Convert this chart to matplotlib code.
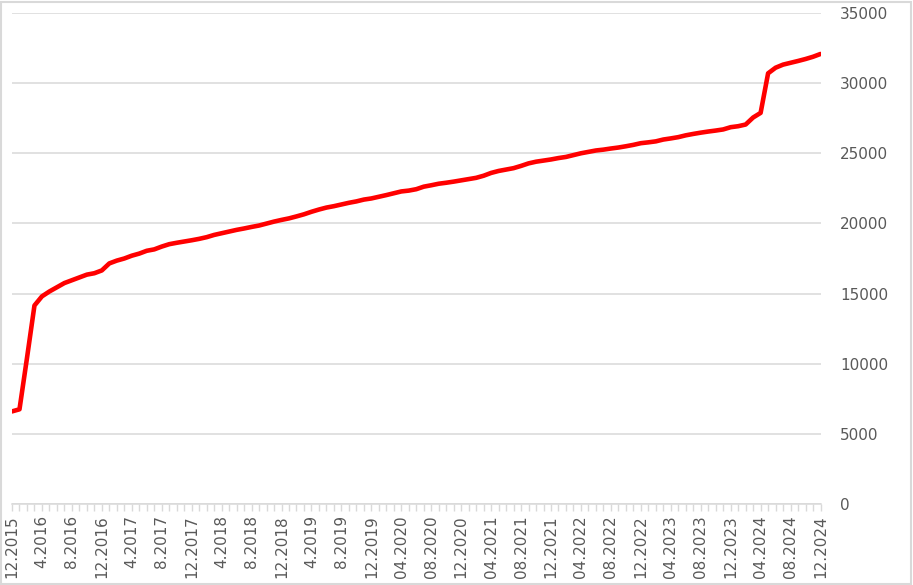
import matplotlib
matplotlib.use('Agg')
import matplotlib.pyplot as plt
from matplotlib.patches import Rectangle

# monthly values, 12.2015 .. 12.2024
values = [
    6600, 6750, 10400, 14150, 14800, 15150, 15450, 15750, 15950, 16150,
    16350, 16450, 16650, 17150, 17350, 17500, 17700, 17850, 18050, 18150,
    18350, 18520, 18620, 18710, 18800, 18900, 19020, 19180, 19300, 19420,
    19540, 19640, 19750, 19850, 19990, 20130, 20250, 20360, 20500, 20650,
    20830, 20990, 21130, 21230, 21350, 21470, 21570, 21700, 21780, 21900,
    22020, 22150, 22280, 22340, 22440, 22620, 22720, 22830, 22900, 22980,
    23070, 23160, 23250, 23400, 23600, 23740, 23840, 23940, 24100, 24280,
    24400, 24480, 24560, 24660, 24740, 24870, 25000, 25100, 25200, 25260,
    25340, 25410, 25500, 25600, 25720, 25780, 25850, 25980, 26060, 26150,
    26280, 26380, 26470, 26550, 26620, 26700, 26860, 26930, 27050, 27550,
    27880, 30700, 31100, 31320, 31450, 31580, 31720, 31880, 32080,
]

tick_labels = [
    '12.2015', '4.2016', '8.2016', '12.2016', '4.2017', '8.2017', '12.2017',
    '4.2018', '8.2018', '12.2018', '4.2019', '8.2019', '12.2019',
    '04.2020', '08.2020', '12.2020', '04.2021', '08.2021', '12.2021',
    '04.2022', '08.2022', '12.2022', '04.2023', '08.2023', '12.2023',
    '04.2024', '08.2024', '12.2024',
]

y_ticks = [0, 5000, 10000, 15000, 20000, 25000, 30000, 35000]

months = list(range(len(values)))
grey = '#D9D9D9'
text_grey = '#595959'

fig = plt.figure(figsize=(9.13, 5.85), dpi=100)
ax = fig.add_axes([12 / 913, 1 - 504 / 585, (820.5 - 12) / 913, (504 - 13) / 585])

ax.plot(months, values, color='#FF0000', linewidth=3.3, solid_capstyle='round',
        solid_joinstyle='round', zorder=3)

ax.set_xlim(0, len(values) - 1)
ax.set_ylim(0, 35000)

ax.set_yticks(y_ticks)
ax.set_yticklabels([str(v) for v in y_ticks])
ax.yaxis.tick_right()
ax.tick_params(axis='y', length=0, pad=14, labelsize=11, labelcolor=text_grey)
ax.grid(axis='y', color=grey, linewidth=1.1)
ax.set_axisbelow(True)

ax.set_xticks(list(range(0, len(values), 4)))
ax.set_xticklabels(tick_labels, rotation=90, ha='center', va='top')
ax.set_xticks(months, minor=True)
ax.tick_params(axis='x', which='both', direction='out', length=5, width=1,
               color=grey, pad=3, labelsize=11, labelcolor=text_grey)

for side in ['top', 'left', 'right']:
    ax.spines[side].set_visible(False)
ax.spines['bottom'].set_color(grey)
ax.spines['bottom'].set_linewidth(1.1)

# light frame round the whole chart
fig.patches.append(Rectangle((0.001, 0.001), 0.997, 0.996, transform=fig.transFigure,
                             fill=False, edgecolor=grey, linewidth=1.5))

fig.savefig('out.png', dpi=100)
